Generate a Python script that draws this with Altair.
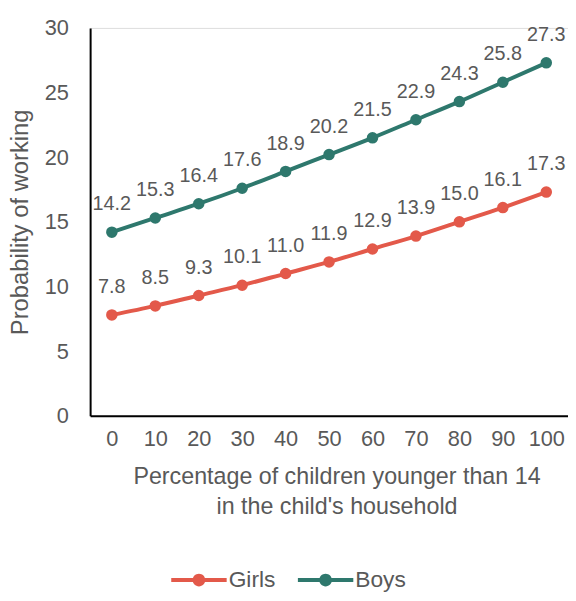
import altair as alt
import pandas as pd

pct = [0, 10, 20, 30, 40, 50, 60, 70, 80, 90, 100]
girls = [7.8, 8.5, 9.3, 10.1, 11.0, 11.9, 12.9, 13.9, 15.0, 16.1, 17.3]
boys = [14.2, 15.3, 16.4, 17.6, 18.9, 20.2, 21.5, 22.9, 24.3, 25.8, 27.3]
series = ["Girls", "Boys"]
colors = ["#E3594A", "#2E786D"]

df = pd.concat([
    pd.DataFrame({"pct": pct, "prob": girls, "sex": "Girls"}),
    pd.DataFrame({"pct": pct, "prob": boys, "sex": "Boys"}),
])

FONT = "Liberation Sans"
GRAY = "#595959"

legend_path = ("M-1,-0.075H1V0.075H-1Z "
               "M0.23,0A0.23,0.23 0 1,1 -0.23,0A0.23,0.23 0 1,1 0.23,0Z")

x = alt.X("pct:Q",
          scale=alt.Scale(domain=[-5, 105], nice=False, zero=False),
          axis=alt.Axis(values=pct, ticks=False, grid=False, domainColor="black",
                        domainWidth=2, labelFontSize=22, labelColor=GRAY, labelFont=FONT,
                        labelPadding=13,
                        title=["Percentage of children younger than 14", "in the child's household"],
                        titleFontSize=23.5, titleFont=FONT, titleColor=GRAY, titleFontWeight="normal",
                        titleLineHeight=31, titleX=249, titleY=49, titleBaseline="top",
                        titleAnchor="middle", titleAlign="center"))
y = alt.Y("prob:Q",
          scale=alt.Scale(domain=[0, 30], nice=False),
          axis=alt.Axis(values=[0, 5, 10, 15, 20, 25, 30], ticks=False, grid=False,
                        domainColor="black", domainWidth=2, labelFontSize=22, labelColor=GRAY,
                        labelFont=FONT, labelPadding=22,
                        title="Probability of working", titleFontSize=24, titleFont=FONT,
                        titleColor=GRAY, titleFontWeight="normal", titleAngle=-90,
                        titleX=-70, titleY=196, titleAlign="center", titleBaseline="middle"))
color = alt.Color("sex:N",
                  scale=alt.Scale(domain=series, range=colors),
                  legend=alt.Legend(title=None, orient="none", direction="horizontal",
                                    legendX=82, legendY=530, symbolType=legend_path,
                                    symbolSize=3136, symbolStrokeWidth=0, symbolOpacity=1,
                                    labelFontSize=23, labelFont=FONT, labelColor=GRAY,
                                    labelOffset=2, columnPadding=22))

line = alt.Chart(df).mark_line(strokeWidth=4, interpolate="monotone").encode(x=x, y=y, color=color)
pts = alt.Chart(df).mark_circle(size=135, opacity=1).encode(x=x, y=y, color=color)
labels = alt.Chart(df).mark_text(dy=-28, fontSize=20, font=FONT, color=GRAY, baseline="middle").encode(
    x=x, y=y, text=alt.Text("prob:Q", format=".1f"))

chart = alt.layer(line, pts, labels).properties(
    width=483, height=392,
    autosize=alt.AutoSizeParams(type="none"),
    padding={"left": 83, "top": 17, "right": 0, "bottom": 176},
).configure_view(stroke=None).configure(background="white")

chart.save("out.html", embed_options={"renderer": "svg", "actions": False})
